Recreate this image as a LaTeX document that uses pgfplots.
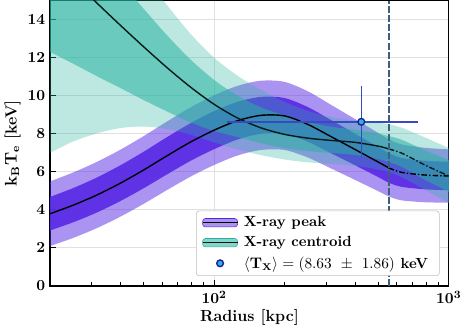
\documentclass[border=0pt]{standalone}
\usepackage{pgfplots}
\pgfplotsset{compat=1.18}
\usepackage{pgfplotstable}
\usepgfplotslibrary{fillbetween}

\definecolor{peakc}{RGB}{88,40,228}
\definecolor{centc}{RGB}{38,178,160}
\definecolor{vline}{RGB}{60,95,125}
\definecolor{errc}{RGB}{55,75,190}
\definecolor{ptfill}{RGB}{50,175,225}
\definecolor{ptedge}{RGB}{25,35,150}

% R  center  inner-lo inner-hi outer-lo outer-hi  (X-ray peak)
\pgfplotstableread{
R      c     il    iu    ol    ou
20     3.80  2.92  4.68  2.10  5.50
25.12  4.25  3.35  5.15  2.53  5.97
31.62  4.78  3.86  5.70  3.04  6.52
39.81  5.40  4.46  6.34  3.64  7.16
50.12  6.10  5.14  7.06  4.32  7.88
63.10  6.85  5.87  7.83  5.05  8.65
79.43  7.57  6.58  8.56  5.75  9.39
100    8.19  7.19  9.19  6.36  10.02
125.9  8.69  7.70  9.68  6.86  10.52
158.5  8.97  8.00  9.94  7.15  10.79
199.5  8.94  8.00  9.88  7.15  10.73
251.2  8.49  7.58  9.40  6.75  10.23
316.2  7.84  6.97  8.71  6.17  9.51
398.1  7.18  6.35  8.01  5.58  8.78
501.2  6.51  5.72  7.30  4.98  8.04
555    6.21  5.43  6.99  4.71  7.71
631.0  5.97  5.21  6.73  4.50  7.44
794.3  5.83  5.08  6.58  4.40  7.26
1000   5.78  5.03  6.53  4.38  7.18
}\peak

% same columns, X-ray centroid
\pgfplotstableread{
R      c      il     iu     ol    ou
20     17.30  12.30  20.50  7.00  23.0
25.12  16.08  11.68  18.98  7.60  21.4
31.62  14.88  11.03  17.48  8.02  19.7
39.81  13.71  10.41  16.01  8.30  18.0
50.12  12.57  9.77   14.57  8.38  16.3
63.10  11.47  9.17   13.17  8.25  14.75
79.43  10.45  8.60   11.90  7.95  13.25
100    9.55   8.15   10.83  7.55  12.0
125.9  8.83   7.83   10.00  7.18  11.05
158.5  8.31   7.51   9.39   6.88  10.3
199.5  7.97   7.25   8.97   6.65  9.68
251.2  7.77   7.09   8.62   6.50  9.2
316.2  7.65   6.99   8.37   6.42  8.88
398.1  7.55   6.89   8.21   6.32  8.7
501.2  7.35   6.67   8.01   6.12  8.58
555    7.20   6.51   7.88   5.98  8.5
631.0  6.98   6.26   7.68   5.72  8.32
794.3  6.35   5.57   7.13   5.05  7.8
1000   5.78   4.95   6.61   4.35  7.25
}\cent

\begin{document}
\begin{tikzpicture}
\begin{axis}[
  scale only axis, width=285pt, height=204pt,
  xmode=log, xmin=20, xmax=1000, ymin=0, ymax=15,
  ytick={0,2,...,14},
  xtick={100,1000},
  minor xtick={20,30,40,50,60,70,80,90,200,300,400,500,600,700,800,900},
  xtick pos=bottom, ytick pos=left,
  tick align=inside,
  major tick length=4pt, minor tick length=2.5pt,
  grid=major,
  major grid style={draw=black!12, line width=0.7pt},
  axis line style={line width=0.9pt},
  tick style={black, line width=0.7pt},
  tick label style={font=\fontsize{11}{13}\selectfont\boldmath},
  label style={font=\fontsize{11.5}{13}\selectfont\bfseries\boldmath},
  xlabel={Radius [kpc]},
  ylabel={$\mathbf{k_B T_e}$ [keV]},
  xlabel style={yshift=3pt},
  ylabel style={yshift=-2pt},
  legend cell align=left,
  legend style={at={(0.977,0.035)}, anchor=south east,
    font=\fontsize{10.5}{12}\selectfont\bfseries,
    draw=black!25, rounded corners=2pt, row sep=1.5pt,
    inner xsep=4pt, inner ysep=2pt,
    nodes={inner xsep=4pt}},
]
% X-ray peak bands
\addplot[name path=pol, smooth, draw=none, forget plot] table[x=R, y=ol] {\peak};
\addplot[name path=pou, smooth, draw=none, forget plot] table[x=R, y=ou] {\peak};
\addplot[name path=pil, smooth, draw=none, forget plot] table[x=R, y=il] {\peak};
\addplot[name path=piu, smooth, draw=none, forget plot] table[x=R, y=iu] {\peak};
\addplot[peakc, fill opacity=0.5, draw=none, forget plot] fill between[of=pol and pou];
\addplot[peakc, fill opacity=0.9, draw=none, forget plot] fill between[of=pil and piu];
\addplot[black, smooth, line width=1pt, forget plot]
  table[x=R, y=c, restrict x to domain=2.9:6.3195] {\peak};
\addplot[black, smooth, line width=1pt, dash pattern=on 4pt off 1.5pt on 1pt off 1.5pt, forget plot]
  table[x=R, y=c, restrict x to domain=6.318:7] {\peak};
% X-ray centroid bands
\addplot[name path=tol, smooth, draw=none, forget plot] table[x=R, y=ol] {\cent};
\addplot[name path=tou, smooth, draw=none, forget plot] table[x=R, y=ou] {\cent};
\addplot[name path=til, smooth, draw=none, forget plot] table[x=R, y=il] {\cent};
\addplot[name path=tiu, smooth, draw=none, forget plot] table[x=R, y=iu] {\cent};
\addplot[centc, fill opacity=0.3, draw=none, forget plot] fill between[of=tol and tou];
\addplot[centc, fill opacity=0.55, draw=none, forget plot] fill between[of=til and tiu];
\addplot[centc!15!black, smooth, line width=1pt, forget plot]
  table[x=R, y=c, restrict x to domain=2.9:6.3195] {\cent};
\addplot[centc!15!black, smooth, line width=1pt, dash pattern=on 4pt off 1.5pt on 1pt off 1.5pt, forget plot]
  table[x=R, y=c, restrict x to domain=6.318:7] {\cent};
% R500
\addplot[vline, line width=1.3pt, dash pattern=on 5pt off 1.5pt, forget plot] coordinates {(555,0) (555,15)};
% mean temperature
\addplot[forget plot, only marks, mark=*, mark size=2.4pt, color=errc,
  mark options={fill=ptfill, draw=ptedge, line width=1pt},
  error bars/.cd, x dir=both, x explicit, y dir=both, y explicit,
  error mark=none, error bar style={color=errc, line width=1.1pt}]
  coordinates {(424,8.63) += (312,1.86) -= (311,1.86)};

\addlegendimage{legend image code/.code={
  \fill[peakc, fill opacity=0.5] (0pt,-3pt) rectangle (25pt,3pt);
  \draw[black, line width=1pt] (0pt,0pt) -- (25pt,0pt);}}
\addlegendentry{X-ray peak}
\addlegendimage{legend image code/.code={
  \fill[centc, fill opacity=0.55] (0pt,-3pt) rectangle (25pt,3pt);
  \draw[centc!15!black, line width=1pt] (0pt,0pt) -- (25pt,0pt);}}
\addlegendentry{X-ray centroid}
\addlegendimage{legend image code/.code={
  \draw[fill=ptfill, draw=ptedge, line width=1pt] (12.5pt,0pt) circle (2.4pt);}}
\addlegendentry{$\langle\mathbf{T_X}\rangle = (8.63\ \pm\ 1.86)$ keV}
\end{axis}
\end{tikzpicture}
\end{document}
